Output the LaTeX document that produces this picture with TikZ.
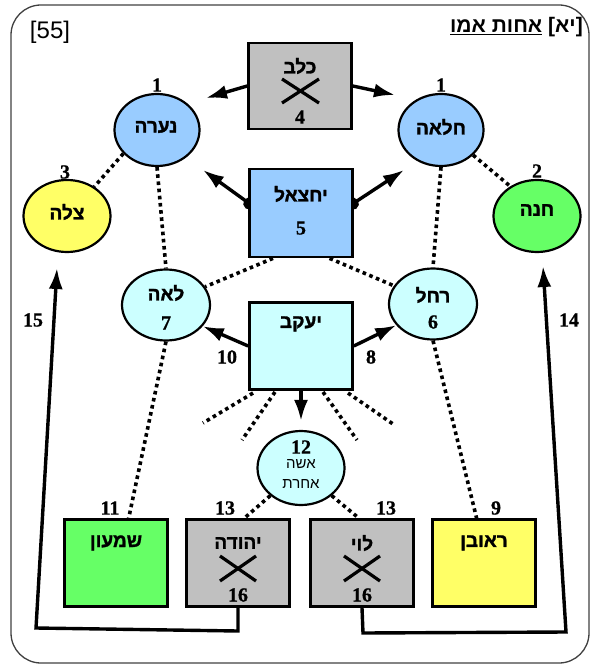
\documentclass[tikz,border=0pt]{standalone}
\usepackage{fontspec}
\usetikzlibrary{arrows.meta,shapes.geometric,calc}
\TeXXeTstate=1
\newfontfamily\heb[Script=Hebrew,FakeBold=1.6]{Liberation Sans Bold}
\newfontfamily\hebl[Script=Hebrew]{Liberation Sans}
\newfontfamily\latn{Liberation Sans}
\newfontfamily\numf[FakeBold=0.8]{Liberation Serif Bold}
\definecolor{cgray}{HTML}{C0C0C0}
\definecolor{cblue}{HTML}{99CCFF}
\definecolor{ccyan}{HTML}{CCFFFF}
\definecolor{cyel}{HTML}{FFFF66}
\definecolor{cgrn}{HTML}{66FF66}
\pgfdeclarelayer{back}
\pgfsetlayers{back,main}
\begin{document}
\begin{tikzpicture}[x=1pt,y=-1pt,
  boxn/.style={draw, line width=2.7pt, minimum width=103pt, minimum height=87pt, inner sep=0pt},
  ell/.style={ellipse, draw, line width=2.2pt, minimum width=85pt, minimum height=72pt, inner sep=0pt},
  hl/.style={font=\heb\fontsize{19}{21}\selectfont, inner sep=0pt},
  hr/.style={font=\hebl\fontsize{15}{17}\selectfont, inner sep=0pt},
  num/.style={font=\numf\fontsize{20}{22}\selectfont, inner sep=0pt},
  dotl/.style={line width=3.6pt, dash pattern=on 3.6pt off 3.6pt},
  arr/.style={line width=3.4pt, -{Latex[length=21pt,width=14pt]}},
  dotarr/.style={line width=3.4pt, {Circle[length=12pt]}-{Latex[length=21pt,width=14pt]}},
  xl/.style={line width=3.2pt},
  bendarr/.style={line width=3.4pt, line join=miter, -{Latex[length=21pt,width=14pt]}}
]
\useasboundingbox (0,0) rectangle (593,666);
\draw[draw=black!75, line width=1.3pt, rounded corners=30pt] (11,5) rectangle (589,663);

% header
\node[font=\latn\fontsize{24}{26}\selectfont, inner sep=0pt] (num55) at (50,32) {[55]};
\node[anchor=east, font=\hebl\bfseries\fontsize{21}{24}\selectfont, inner sep=0pt] (hdr) at (583,27)
  {\underline{\beginR אחות אמו\endR} {\latn\bfseries[}\beginR יא\endR{\latn\bfseries]}};

% ellipses
\node[ell, fill=cblue] (nara) at (157,130) {};
\node[ell, fill=cblue] (chalaa) at (441,130) {};
\node[ell, fill=cyel, minimum width=87pt, minimum height=72pt] (tsila) at (67,216) {};
\node[ell, fill=cgrn, minimum width=87pt, minimum height=72pt] (chana) at (537,216) {};
\node[ell, fill=ccyan, minimum width=88pt, minimum height=71pt] (leah) at (166,305) {};
\node[ell, fill=ccyan, minimum width=88pt, minimum height=71pt] (rachel) at (433,304) {};
\node[ell, fill=ccyan, minimum width=87pt, minimum height=74pt] (isha) at (301,468) {};

% boxes
\node[boxn, fill=cgray, minimum height=86pt] (kelev) at (300,86) {};
\node[boxn, fill=cblue, minimum height=88pt] (yech) at (301,213) {};
\node[boxn, fill=ccyan] (yaakov) at (301,346) {};
\node[boxn, fill=cgrn] (shimon) at (116,563) {};
\node[boxn, fill=cgray] (yehuda) at (238,563) {};
\node[boxn, fill=cgray] (levi) at (362,563) {};
\node[boxn, fill=cyel] (reuven) at (484,563) {};

% texts
\node[hl] (kelevT) at (300,66) {\beginR כלב\endR};
\draw[xl] (282,79) -- (319,103);
\draw[xl] (319,79) -- (282,103);
\node[num] (n4) at (300,117) {4};
\node[num] (n1a) at (157,85) {1};
\node[num] (n1b) at (441,85) {1};
\node[hl] (naraT) at (156,127) {\beginR נערה\endR};
\node[hl] (chalaaT) at (441,127) {\beginR חלאה\endR};
\node[hl] (tsilaT) at (67,212) {\beginR צלה\endR};
\node[num] (n3) at (65,172) {3};
\node[hl] (chanaT) at (537,210) {\beginR חנה\endR};
\node[num] (n2) at (537,171) {2};
\node[hl] (yechT) at (301,194) {\beginR יחצאל\endR};
\node[num] (n5) at (301,228) {5};
\node[hl] (leahT) at (166,293) {\beginR לאה\endR};
\node[num] (n7) at (166,323) {7};
\node[hl] (rachelT) at (433,295) {\beginR רחל\endR};
\node[num] (n6) at (433,322) {6};
\node[hl] (yaakovT) at (301,324) {\beginR יעקב\endR};
\node[num] (n10) at (227,357) {10};
\node[num] (n8) at (371,357) {8};
\node[num] (n12) at (301,447) {12};
\node[hr] (ishaT1) at (301,464) {\beginR אשה\endR};
\node[hr] (ishaT2) at (301,484) {\beginR אחרת\endR};
\node[num] (n11) at (110,508) {11};
\node[num] (n13a) at (225,508) {13};
\node[num] (n13b) at (386,508) {13};
\node[num] (n9) at (496,508) {9};
\node[hl] (shimonT) at (116,543) {\beginR שמעון\endR};
\node[hl] (yehudaT) at (238,543) {\beginR יהודה\endR};
\node[hl] (leviT) at (362,543) {\beginR לוי\endR};
\node[hl] (reuvenT) at (484,543) {\beginR ראובן\endR};
\draw[xl] (220,556) -- (256,581);
\draw[xl] (256,556) -- (220,581);
\draw[xl] (344,556) -- (380,581);
\draw[xl] (380,556) -- (344,581);
\node[num] (n16a) at (238,595) {16};
\node[num] (n16b) at (362,595) {16};
\node[num] (n15) at (33,320) {15};
\node[num] (n14) at (569,320) {14};

% free ends
\coordinate (kL) at (206,98);
\coordinate (kR) at (395,95);
\coordinate (yL) at (203,170);
\coordinate (yR) at (404,170);
\coordinate (p15a) at (238,631);
\coordinate (p15b) at (36,628);
\coordinate (t15) at (57,268);
\coordinate (p14a) at (363,633);
\coordinate (p14b) at (566,632);
\coordinate (t14) at (543,266);
\coordinate (r1a) at (253,393); \coordinate (r1b) at (203,423);
\coordinate (r2a) at (275,392); \coordinate (r2b) at (242,440);
\coordinate (r3a) at (323,392); \coordinate (r3b) at (357,440);
\coordinate (r4a) at (348,393); \coordinate (r4b) at (393,424);

% arrows
\draw[arr] (kelev.west) -- (kL);
\draw[arr] (kelev.east) -- (kR);
\begin{pgfonlayer}{back}
\draw[dotarr] ([yshift=6pt,xshift=6pt]yech.west) -- (yL);
\draw[dotarr] ([yshift=6pt,xshift=-6pt]yech.east) -- (yR);
\end{pgfonlayer}
\draw[arr] (yaakov.west) -- (leah.-30);
\draw[arr] (yaakov.east) -- (rachel.210);
\draw[arr, shorten >=9pt] (yaakov.south) -- (isha.north);
\draw[bendarr] (yehuda.south) -- (p15a) -- (p15b) -- (t15);
\draw[bendarr] (levi.south) -- (p14a) -- (p14b) -- (t14);

% dotted
\draw[dotl] (nara.215) -- (tsila.47);
\draw[dotl] (chalaa.322) -- (chana.132);
\draw[dotl] (nara.south) -- (leah.north);
\draw[dotl] (chalaa.south) -- (rachel.north);
\draw[dotl] ($(yech.south west)!0.235!(yech.south east)$) -- (leah.25);
\draw[dotl] ($(yech.south west)!0.77!(yech.south east)$) -- (rachel.155);
\draw[dotl] (leah.south) -- ($(shimon.north west)!0.62!(shimon.north east)$);
\draw[dotl] (rachel.south) -- ($(reuven.north west)!0.43!(reuven.north east)$);
\draw[dotl] (isha.222) -- ($(yehuda.north west)!0.56!(yehuda.north east)$);
\draw[dotl] (isha.318) -- ($(levi.north west)!0.47!(levi.north east)$);
\draw[dotl] (r1a) -- (r1b);
\draw[dotl] (r2a) -- (r2b);
\draw[dotl] (r3a) -- (r3b);
\draw[dotl] (r4a) -- (r4b);
\end{tikzpicture}
\end{document}
